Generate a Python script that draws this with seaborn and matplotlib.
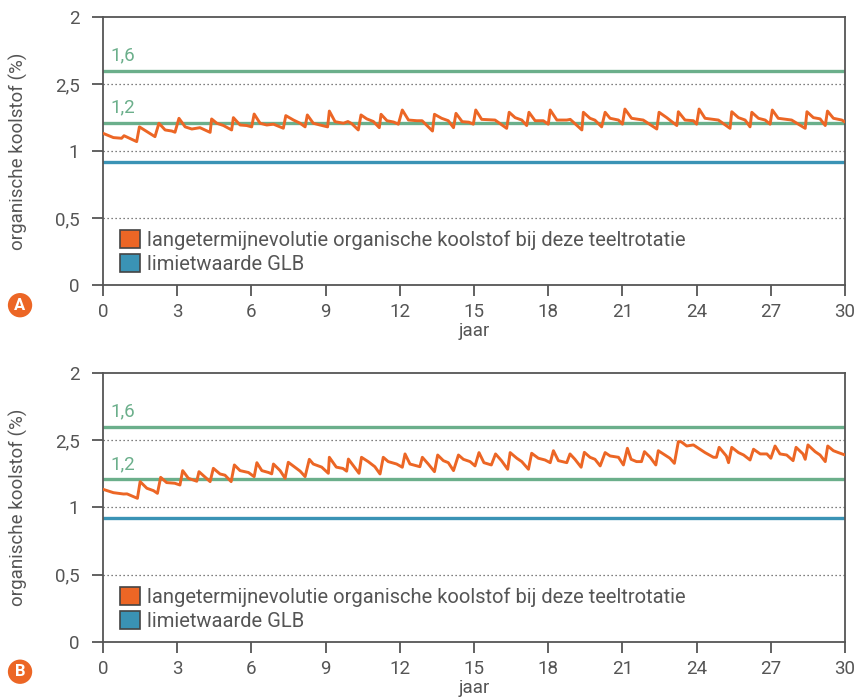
import matplotlib.pyplot as plt
import seaborn as sns
import pandas as pd
from matplotlib.patches import Patch

sns.set_theme(style="white")
plt.rcParams['font.family'] = ['Roboto', 'DejaVu Sans']

ORANGE = "#EC6625"
GREEN = "#6BAF8B"
BLUE = "#3A93B5"
GREY = "#555555"

# reference levels
green_high = 1.6
green_low = 1.21
glb_limit = 0.92

x_ticks = [0, 3, 6, 9, 12, 15, 18, 21, 24, 27, 30]
y_ticks = [0, 0.5, 1, 1.5, 2]
y_tick_labels = ["0", "0,5", "1", "2,5", "2"]

# panel A: long term evolution of organic carbon
years_a = [0.0, 0.42, 0.75, 0.85, 1.36, 1.47, 2.10, 2.26, 2.51, 2.78, 2.91, 3.07, 3.32, 3.59,
           3.92, 4.33, 4.39, 4.60, 4.87, 5.20, 5.27, 5.54, 5.81, 6.01, 6.11, 6.35, 6.62, 6.89,
           7.29, 7.39, 7.70, 7.97, 8.17, 8.26, 8.50, 8.77, 9.08, 9.15, 9.38, 9.72, 9.90, 10.05,
           10.32, 10.43, 10.66, 10.93, 11.17, 11.24, 11.48, 11.75, 11.94, 12.10, 12.35, 12.69,
           12.90, 13.32, 13.40, 13.69, 13.96, 14.17, 14.27, 14.52, 14.79, 14.97, 15.07, 15.31,
           15.85, 16.32, 16.42, 16.66, 16.93, 17.13, 17.22, 17.47, 17.80, 18.00, 18.08, 18.35,
           18.75, 18.89, 19.36, 19.42, 19.69, 19.89, 20.16, 20.30, 20.50, 20.84, 21.00, 21.10,
           21.37, 21.84, 22.39, 22.48, 22.79, 23.20, 23.26, 23.53, 23.87, 24.00, 24.10, 24.34,
           24.88, 25.35, 25.42, 25.69, 25.96, 26.16, 26.23, 26.50, 26.77, 26.97, 27.06, 27.30,
           27.84, 28.39, 28.46, 28.72, 28.99, 29.20, 29.29, 29.53, 29.87, 30.0]
carbon_a = [1.132, 1.100, 1.095, 1.114, 1.070, 1.180, 1.107, 1.207, 1.157, 1.149, 1.140, 1.244,
            1.180, 1.164, 1.174, 1.139, 1.239, 1.207, 1.190, 1.157, 1.249, 1.194, 1.190, 1.180,
            1.276, 1.207, 1.194, 1.200, 1.170, 1.264, 1.231, 1.207, 1.180, 1.269, 1.207, 1.194,
            1.180, 1.298, 1.219, 1.207, 1.220, 1.205, 1.157, 1.269, 1.240, 1.220, 1.174, 1.274,
            1.226, 1.216, 1.200, 1.306, 1.231, 1.226, 1.226, 1.149, 1.274, 1.244, 1.226, 1.174,
            1.281, 1.219, 1.215, 1.200, 1.306, 1.236, 1.231, 1.169, 1.289, 1.249, 1.231, 1.190,
            1.289, 1.226, 1.226, 1.200, 1.306, 1.231, 1.231, 1.236, 1.157, 1.289, 1.244, 1.230,
            1.180, 1.289, 1.244, 1.231, 1.200, 1.313, 1.244, 1.231, 1.164, 1.289, 1.249, 1.190,
            1.293, 1.231, 1.226, 1.200, 1.313, 1.244, 1.231, 1.169, 1.293, 1.249, 1.231, 1.180,
            1.289, 1.244, 1.231, 1.200, 1.306, 1.244, 1.231, 1.169, 1.293, 1.249, 1.240, 1.190,
            1.298, 1.244, 1.231, 1.216]

# panel B
years_b = [0.0, 0.42, 0.83, 0.97, 1.39, 1.50, 1.77, 2.04, 2.20, 2.33, 2.57, 2.90, 3.11, 3.22,
           3.45, 3.72, 3.79, 3.88, 4.13, 4.33, 4.46, 4.73, 4.93, 5.18, 5.31, 5.54, 5.88, 6.11,
           6.22, 6.42, 6.69, 6.82, 6.89, 7.16, 7.36, 7.49, 7.76, 7.97, 8.17, 8.34, 8.50, 8.84,
           9.11, 9.15, 9.43, 9.70, 9.85, 9.92, 10.35, 10.45, 10.72, 10.99, 11.20, 11.33, 11.53,
           11.87, 12.10, 12.21, 12.41, 12.68, 12.81, 12.91, 13.15, 13.40, 13.53, 13.76, 13.96,
           14.17, 14.37, 14.57, 14.84, 15.04, 15.20, 15.40, 15.70, 15.87, 16.11, 16.36, 16.46,
           16.73, 16.93, 17.20, 17.33, 17.60, 17.87, 18.08, 18.21, 18.41, 18.75, 18.88, 19.08,
           19.33, 19.46, 19.69, 19.89, 20.10, 20.30, 20.50, 20.84, 21.04, 21.20, 21.35, 21.57,
           21.77, 21.89, 22.12, 22.35, 22.45, 22.72, 22.92, 23.10, 23.26, 23.37, 23.60, 23.87,
           24.34, 24.68, 24.80, 24.91, 25.20, 25.29, 25.42, 25.69, 25.90, 26.16, 26.30, 26.57,
           26.84, 27.00, 27.17, 27.37, 27.64, 27.90, 28.02, 28.30, 28.39, 28.50, 28.79, 28.99,
           29.20, 29.30, 29.53, 29.73, 30.0]
carbon_b = [1.135, 1.110, 1.100, 1.101, 1.068, 1.192, 1.143, 1.125, 1.105, 1.224, 1.185, 1.180,
            1.167, 1.274, 1.217, 1.200, 1.195, 1.266, 1.225, 1.192, 1.291, 1.249, 1.240, 1.192,
            1.316, 1.274, 1.260, 1.229, 1.333, 1.274, 1.260, 1.250, 1.323, 1.274, 1.217, 1.336,
            1.299, 1.270, 1.229, 1.358, 1.323, 1.300, 1.254, 1.373, 1.300, 1.290, 1.270, 1.360,
            1.254, 1.373, 1.341, 1.303, 1.249, 1.373, 1.341, 1.323, 1.299, 1.398, 1.323, 1.309,
            1.303, 1.373, 1.323, 1.266, 1.390, 1.348, 1.333, 1.274, 1.390, 1.358, 1.341, 1.309,
            1.408, 1.333, 1.316, 1.398, 1.348, 1.284, 1.408, 1.366, 1.341, 1.284, 1.403, 1.366,
            1.353, 1.333, 1.422, 1.348, 1.333, 1.398, 1.358, 1.299, 1.410, 1.373, 1.358, 1.309,
            1.408, 1.383, 1.373, 1.316, 1.440, 1.358, 1.341, 1.341, 1.415, 1.373, 1.316, 1.422,
            1.390, 1.366, 1.328, 1.489, 1.489, 1.457, 1.465, 1.408, 1.373, 1.373, 1.447, 1.383,
            1.333, 1.447, 1.408, 1.390, 1.353, 1.433, 1.398, 1.398, 1.366, 1.457, 1.398, 1.390,
            1.348, 1.447, 1.398, 1.358, 1.465, 1.415, 1.390, 1.341, 1.457, 1.422, 1.408, 1.390]

legend_labels = ["langetermijnevolutie organische koolstof bij deze teeltrotatie",
                 "limietwaarde GLB"]


def draw_panel(fig, rect, years, carbon, letter, letter_xy):
    ax = fig.add_axes(rect)
    df = pd.DataFrame({"jaar": years, "koolstof": carbon})

    # dotted grid
    for v in [0.5, 1.0, 1.5]:
        ax.axhline(v, color=GREY, lw=0.9, ls=(0, (1, 2.2)), zorder=1)

    ax.axhline(green_high, color=GREEN, lw=2.4, zorder=2)
    ax.axhline(green_low, color=GREEN, lw=2.4, zorder=2)
    ax.axhline(glb_limit, color=BLUE, lw=2.4, zorder=2)

    sns.lineplot(data=df, x="jaar", y="koolstof", color=ORANGE, lw=2.1, ax=ax,
                 zorder=3, estimator=None, sort=False)

    ax.text(0.3, green_high + 0.045, "1,6", color=GREEN, fontsize=13.5, va="bottom")
    ax.text(0.3, green_low + 0.045, "1,2", color=GREEN, fontsize=13.5, va="bottom")

    ax.set_xlim(0, 30)
    ax.set_ylim(0, 2)
    ax.set_xticks(x_ticks)
    ax.set_yticks(y_ticks)
    ax.set_yticklabels(y_tick_labels)
    ax.tick_params(axis="both", direction="out", length=8, width=1.3, color=GREY,
                   labelcolor=GREY, labelsize=13.5)
    ax.tick_params(axis="y", pad=9, left=True)
    ax.tick_params(axis="x", pad=5, bottom=True)
    for sp in ax.spines.values():
        sp.set_color(GREY)
        sp.set_linewidth(1.3)

    ax.set_xlabel("jaar", color=GREY, fontsize=13.5, labelpad=1)
    ax.set_ylabel("organische koolstof (%)", color=GREY, fontsize=13.5)
    ax.yaxis.set_label_coords(-0.101, 0.5)

    handles = [Patch(facecolor=ORANGE, edgecolor="#444444", lw=1.2),
               Patch(facecolor=BLUE, edgecolor="#444444", lw=1.2)]
    leg = ax.legend(handles, legend_labels, loc="lower left", bbox_to_anchor=(0.012, 0.012),
                    frameon=False, fontsize=14.5, handlelength=1.0, handleheight=1.0,
                    handletextpad=0.35, labelspacing=0.2, borderaxespad=0)
    for t in leg.get_texts():
        t.set_color(GREY)

    fig.text(letter_xy[0], letter_xy[1], letter, ha="center", va="center", color="white",
             fontsize=12, weight="bold",
             bbox=dict(boxstyle="circle,pad=0.28", fc=ORANGE, ec="none"))
    return ax


fig = plt.figure(figsize=(8.6, 7), dpi=100)
draw_panel(fig, [0.1198, 0.5929, 0.8628, 0.3828], years_a, carbon_a, "A", (0.0233, 0.564))
draw_panel(fig, [0.1198, 0.0829, 0.8628, 0.3843], years_b, carbon_b, "B", (0.0233, 0.0404))

fig.savefig("out.png", dpi=100)
